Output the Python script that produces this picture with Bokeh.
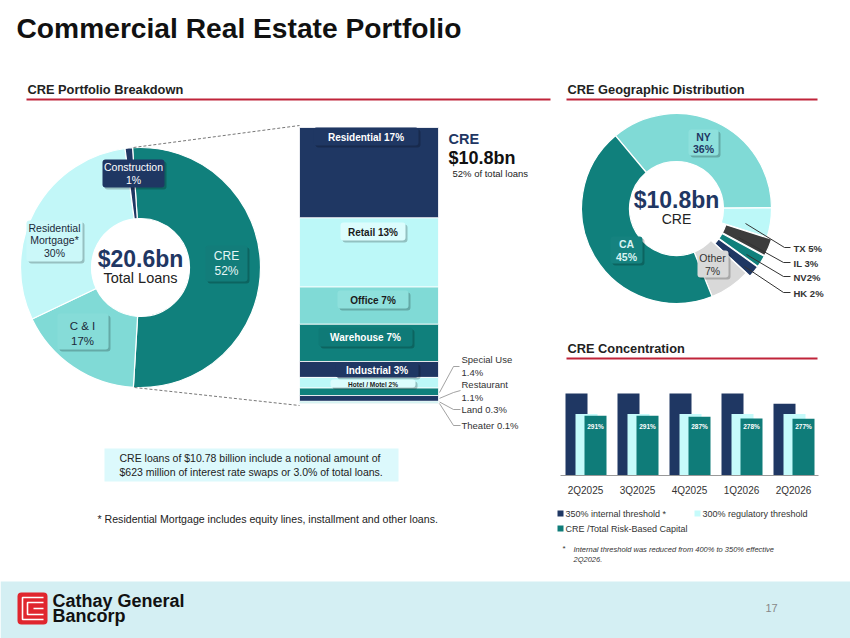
import math
from bokeh.plotting import figure
from bokeh.models import Range1d
from bokeh.embed import file_html
from bokeh.resources import INLINE
from bokeh.core.properties import value

# ---------------- data ----------------
loan_categories = ["CRE", "C & I", "Residential Mortgage*", "Construction"]
loan_shares = [52, 17, 30, 1]

cre_types = ["Residential", "Retail", "Office", "Warehouse", "Industrial",
             "Hotel / Motel", "Special Use", "Restaurant", "Land", "Theater"]
cre_shares = [17, 13, 7, 7, 3, 2, 1.4, 1.1, 0.3, 0.1]

geo_regions = ["NY", "TX", "IL", "NV", "HK", "Other", "CA"]
geo_shares = [36, 5, 3, 2, 2, 7, 45]

quarters = ["2Q2025", "3Q2025", "4Q2025", "1Q2026", "2Q2026"]
internal_threshold = [400, 400, 400, 400, 350]
regulatory_threshold = [300, 300, 300, 300, 300]
cre_to_capital = [291, 291, 287, 278, 277]

# ---------------- style ----------------
FONT = value("Liberation Sans")
NAVY = "#1f3763"
TEAL = "#10807c"
LTEAL = "#80dad6"
LCYAN = "#c2f7f8"
RED = "#c0243a"
DARK = "#222222"

p = figure(width=850, height=638, x_range=Range1d(0, 850), y_range=Range1d(638, 0),
           output_backend="svg", toolbar_location=None, min_border=0,
           x_axis_location=None, y_axis_location=None)
p.xgrid.visible = False
p.ygrid.visible = False
p.outline_line_color = None
p.background_fill_color = "white"
p.border_fill_color = "white"


def txt(x, y, s, size, color=DARK, style="normal", align="left", baseline="middle"):
    p.text(x=[x], y=[y], text=[s], text_font=FONT, text_font_size=f"{size}px",
           text_color=color, text_font_style=style, text_align=align,
           text_baseline=baseline)


def box(x0, x1, y0, y1, fill, shadow=True):
    if shadow:
        p.quad(left=[x0 + 2], right=[x1 + 2], top=[y0 + 2], bottom=[y1 + 2],
               fill_color="black", fill_alpha=0.22, line_color=None, border_radius=3)
    p.quad(left=[x0], right=[x1], top=[y0], bottom=[y1], fill_color=fill,
           line_color=None, border_radius=3)


def donut(cx, cy, r_in, r_out, shares, colors, start_cw, explode=None):
    cum = start_cw
    for i, (s, c) in enumerate(zip(shares, colors)):
        a0 = cum
        a1 = cum + s * 3.6
        cum = a1
        ox, oy = 0.0, 0.0
        if explode and explode[i]:
            m = math.radians((a0 + a1) / 2)
            ox = math.sin(m) * explode[i]
            oy = -math.cos(m) * explode[i]
        p.annular_wedge(x=[cx + ox], y=[cy + oy], inner_radius=r_in, outer_radius=r_out,
                        inner_radius_units="screen", outer_radius_units="screen",
                        start_angle=90 - a1, end_angle=90 - a0,
                        start_angle_units="deg", end_angle_units="deg",
                        direction="anticlock", fill_color=c, line_color="white",
                        line_width=1.2)


# ---------------- title & headers ----------------
txt(16, 27, "Commercial Real Estate Portfolio", 28.2, "#111111", "bold")

for (x0, x1, y, label) in [(27, 550, 89, "CRE Portfolio Breakdown"),
                           (567, 817, 89, "CRE Geographic Distribution"),
                           (567, 817, 348, "CRE Concentration")]:
    txt(x0, y, label, 12.8, DARK, "bold")
    p.line(x=[x0 - 1, x1], y=[y + 10, y + 10], line_color=RED, line_width=2)

# ---------------- total loans donut ----------------
LCX, LCY = 140, 267
donut(LCX, LCY, 49, 120, loan_shares, [TEAL, LTEAL, LCYAN, NAVY], -3.8)

box(205, 247, 245, 281, "#127d7a")
txt(226, 255, "CRE", 12, "#e6f6f6", "normal", "center")
txt(226, 270, f"{loan_shares[0]}%", 12, "#e6f6f6", "normal", "center")
box(57, 108, 313, 349, "#86dcd8")
txt(82, 325, loan_categories[1], 11.5, "#1b2a3a", "normal", "center")
txt(82, 340, f"{loan_shares[1]}%", 11.5, "#1b2a3a", "normal", "center")
box(26, 82, 220, 261, "#cbf8f9")
txt(54, 227, "Residential", 10.5, "#1b2a3a", "normal", "center")
txt(54, 239, "Mortgage*", 10.5, "#1b2a3a", "normal", "center")
txt(54, 252, f"{loan_shares[2]}%", 10.5, "#1b2a3a", "normal", "center")
box(102, 164, 159, 187, NAVY)
txt(133, 166, "Construction", 10.5, "white", "normal", "center")
txt(133, 179, f"{loan_shares[3]}%", 10.5, "white", "normal", "center")

txt(LCX, 258, "$20.6bn", 23, NAVY, "bold", "center")
txt(LCX, 277, "Total Loans", 14.5, "#222222", "normal", "center")

# dashed connectors
p.line(x=[133, 299], y=[147, 125], line_color="#777777", line_dash="3 2", line_width=1)
p.line(x=[134, 299], y=[387, 405], line_color="#777777", line_dash="3 2", line_width=1)

# ---------------- CRE stacked bar ----------------
BX0, BX1, BTOP, BBOT = 299, 438, 127, 403
scale = (BBOT - BTOP) / sum(cre_shares)
bar_colors = [NAVY, "#bcf8f8", "#80dad6", TEAL, NAVY, "#bcf8f8", TEAL, NAVY, "#80dad6", TEAL]
tops, bots = [], []
cum = 0.0
for s in cre_shares:
    tops.append(BTOP + cum * scale)
    cum += s
    bots.append(BTOP + cum * scale)
p.quad(left=[BX0] * len(cre_shares), right=[BX1] * len(cre_shares), top=tops, bottom=bots,
       fill_color=bar_colors, line_color="white", line_width=0.8)

seg_labels = [
    (313, 418, 127, 145, NAVY, "white", 10),
    (340, 405, 222, 240, "#dcfdfd", "#1b1b1b", 10),
    (337, 408, 290, 308, "#8ee0dc", "#1b1b1b", 10),
    (318, 412, 327, 346, "#0f7a77", "white", 10),
    (335, 418, 362, 377, NAVY, "white", 10),
    (330, 415, 379, 387, "#dcfdfd", "#1b1b1b", 6.5),
]
for i, (x0, x1, y0, y1, fill, tc, fs) in enumerate(seg_labels):
    box(x0, x1, y0, y1, fill)
    txt((x0 + x1) / 2, (y0 + y1) / 2 + 0.5, f"{cre_types[i]} {cre_shares[i]:g}%", fs, tc,
        "bold", "center")

# callouts for the thin segments
call = [
    ([439, 453, 459], [bots[6] - 3, 366, 366], ["Special Use", f"{cre_shares[6]:g}%"], [359, 372]),
    ([439, 453, 460], [bots[7] - 3, 392, 390], ["Restaurant", f"{cre_shares[7]:g}%"], [384, 397]),
    ([439, 453, 460], [bots[8] - 1, 409, 409], [f"Land {cre_shares[8]:g}%"], [409]),
    ([439, 453, 460], [bots[9], 425, 425], [f"Theater {cre_shares[9]:g}%"], [425]),
]
for xs, ys, lines, lys in call:
    p.line(x=xs, y=ys, line_color="#8a8a8a", line_width=0.8)
    for s, ly in zip(lines, lys):
        txt(461, ly, s, 9.5, "#333333")

txt(448, 138, "CRE", 14.5, NAVY, "bold")
txt(448, 157, "$10.8bn", 18, "#111111", "bold")
txt(452, 173, f"{loan_shares[0]}% of total loans", 9.5, "#222222")

# ---------------- geographic donut ----------------
GCX, GCY = 676, 208
geo_colors = ["#80dad6", "#bcf8f8", "#3c3c3c", TEAL, NAVY, "#d9d9d9", TEAL]
donut(GCX, GCY, 47, 95, geo_shares, geo_colors, -40, explode=[0, 0, 5, 5, 5, 0, 0])

box(688, 718, 129, 155, "#8ee0dc")
txt(703, 136, geo_regions[0], 10.5, NAVY, "bold", "center")
txt(703, 148, f"{geo_shares[0]}%", 10.5, NAVY, "bold", "center")
box(610, 642, 236, 263, "#15827f")
txt(626, 243, geo_regions[6], 10.5, "#d8f2f2", "bold", "center")
txt(626, 256, f"{geo_shares[6]}%", 10.5, "#d8f2f2", "bold", "center")
box(697, 728, 250, 277, "#d9d9d9")
txt(712, 257, geo_regions[5], 10.5, "#333333", "normal", "center")
txt(712, 270, f"{geo_shares[5]}%", 10.5, "#333333", "normal", "center")

txt(GCX, 199, "$10.8bn", 23, NAVY, "bold", "center")
txt(GCX, 218, "CRE", 14, "#222222", "normal", "center")

geo_call = [
    ([745, 784, 790], [223, 247, 247], f"{geo_regions[1]}  {geo_shares[1]}%", 248),
    ([738, 783, 790], [237, 262, 262], f"{geo_regions[2]}  {geo_shares[2]}%", 263),
    ([746, 783, 790], [254, 276, 276], f"{geo_regions[3]}{geo_shares[3]}%", 277),
    ([744, 783, 790], [266, 292, 292], f"{geo_regions[4]} {geo_shares[4]}%", 293),
]
for xs, ys, s, ly in geo_call:
    p.line(x=xs, y=ys, line_color="#333333", line_width=1)
    txt(793, ly, s, 9.5, "#333333", "bold")

# ---------------- CRE concentration bars ----------------
BASE = 475
K = 82 / 400.0
cxs = [585 + 52 * i for i in range(len(quarters))]
W = 22
p.quad(left=[c - 9 - W / 2 for c in cxs], right=[c - 9 + W / 2 for c in cxs],
       top=[BASE - v * K for v in internal_threshold], bottom=[BASE] * 5,
       fill_color=NAVY, line_color=None)
p.quad(left=[c + 1 - W / 2 for c in cxs], right=[c + 1 + W / 2 for c in cxs],
       top=[BASE - v * K for v in regulatory_threshold], bottom=[BASE] * 5,
       fill_color="#c6fbfb", line_color=None)
p.quad(left=[c + 10 - W / 2 for c in cxs], right=[c + 10 + W / 2 for c in cxs],
       top=[BASE - v * K for v in cre_to_capital], bottom=[BASE] * 5,
       fill_color="#0f7c79", line_color=None)
p.line(x=[560, 818], y=[BASE, BASE], line_color="#999999", line_width=1)
for c, v, q in zip(cxs, cre_to_capital, quarters):
    txt(c + 10, 426, f"{v}%", 6.5, "white", "bold", "center")
    txt(c, 490, q, 10, "#333333", "normal", "center")

p.quad(left=[557, 694, 557], right=[563, 700, 563], top=[510, 510, 525],
       bottom=[516, 516, 531], fill_color=[NAVY, "#c6fbfb", "#0f7c79"], line_color=None)
txt(565, 513, "350% internal threshold *", 9, "#333333")
txt(702, 513, "300% regulatory threshold", 9, "#333333")
txt(565, 528, "CRE /Total Risk-Based Capital", 9, "#333333")
txt(562, 548, "*", 8, "#333333")
txt(573, 549, "Internal threshold was reduced from 400% to 350% effective", 7.5, "#333333", "italic")
txt(573, 559, "2Q2026.", 7.5, "#333333", "italic")

# ---------------- notes ----------------
p.quad(left=[104], right=[398], top=[448], bottom=[481], fill_color="#dcf9fc", line_color=None)
txt(119, 457, "CRE loans of $10.78 billion include a notional amount of", 10.5, "#222222")
txt(119, 471, "$623 million of interest rate swaps or 3.0% of total loans.", 10.5, "#222222")
txt(97, 518, "* Residential Mortgage includes equity lines, installment and other loans.", 10.6, "#222222")

# ---------------- footer ----------------
p.quad(left=[0], right=[850], top=[581], bottom=[638], fill_color="#d4eff3", line_color=None)
p.quad(left=[17], right=[47], top=[592], bottom=[624], fill_color="#e0262e", line_color=None,
       border_radius=4)
p.multi_line(xs=[[43, 22, 22, 43], [43, 27, 27, 43], [33, 43]],
             ys=[[597, 597, 619, 619], [602, 602, 614, 614], [608, 608]],
             line_color="white", line_width=1.6)
txt(52, 600, "Cathay General", 18, "#111111", "bold")
txt(52, 615, "Bancorp", 18, "#111111", "bold")
txt(771, 607, "17", 11, "#888888", "normal", "center")

open("out.html", "w").write(file_html(p, INLINE))
